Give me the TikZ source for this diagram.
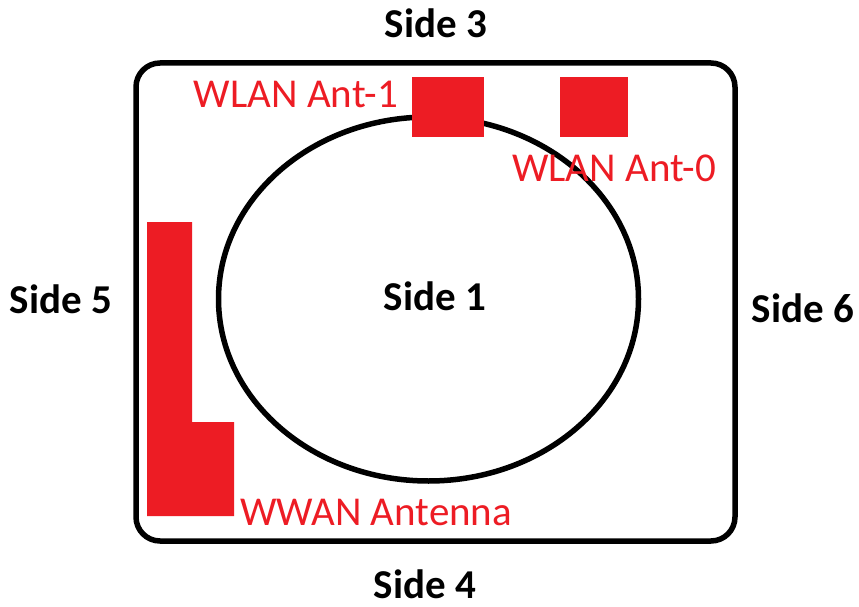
\documentclass[tikz,border=0pt]{standalone}
\usepackage{fontspec}
\setmainfont{Carlito}
\definecolor{antred}{HTML}{ED1C24}
\begin{document}
\begin{tikzpicture}[x=1pt,y=-1pt,
  sidelabel/.style={font=\fontsize{41}{41}\selectfont\bfseries, text=black, inner sep=0pt, anchor=base},
  antlabel/.style={font=\fontsize{41}{41}\selectfont, text=antred, inner sep=0pt},
  antenna/.style={fill=antred, draw=none}]
\useasboundingbox (0,0) rectangle (859,607);
\fill[white] (0,0) rectangle (859,607);

% device outline and display
\draw[line width=5.5pt, rounded corners=24pt] (136,63) rectangle (735,541);
\draw[line width=5.5pt] (428.5,299) ellipse [x radius=210, y radius=182];

% antennas
\fill[antenna] (412,77) rectangle (484,137);
\fill[antenna] (560,77) rectangle (628,137);
\fill[antenna] (147,222) -- (192,222) -- (192,422) -- (234,422) -- (234,516) -- (147,516) -- cycle;

% side labels
\node[sidelabel] (s3) at (436,38) {Side 3};
\node[sidelabel] (s1) at (435,310) {Side 1};
\node[sidelabel] (s5) at (61,313) {Side 5};
\node[sidelabel] (s6) at (803,322) {Side 6};
\node[sidelabel] (s4) at (425,598) {Side 4};

% antenna labels
\node[antlabel, anchor=base east] (wlan1) at (398,108) {WLAN Ant-1};
\node[antlabel, anchor=base west] (wlan0) at (512,181) {WLAN Ant-0};
\node[antlabel, anchor=base west] (wwan) at (240,525) {WWAN Antenna};
\end{tikzpicture}
\end{document}
